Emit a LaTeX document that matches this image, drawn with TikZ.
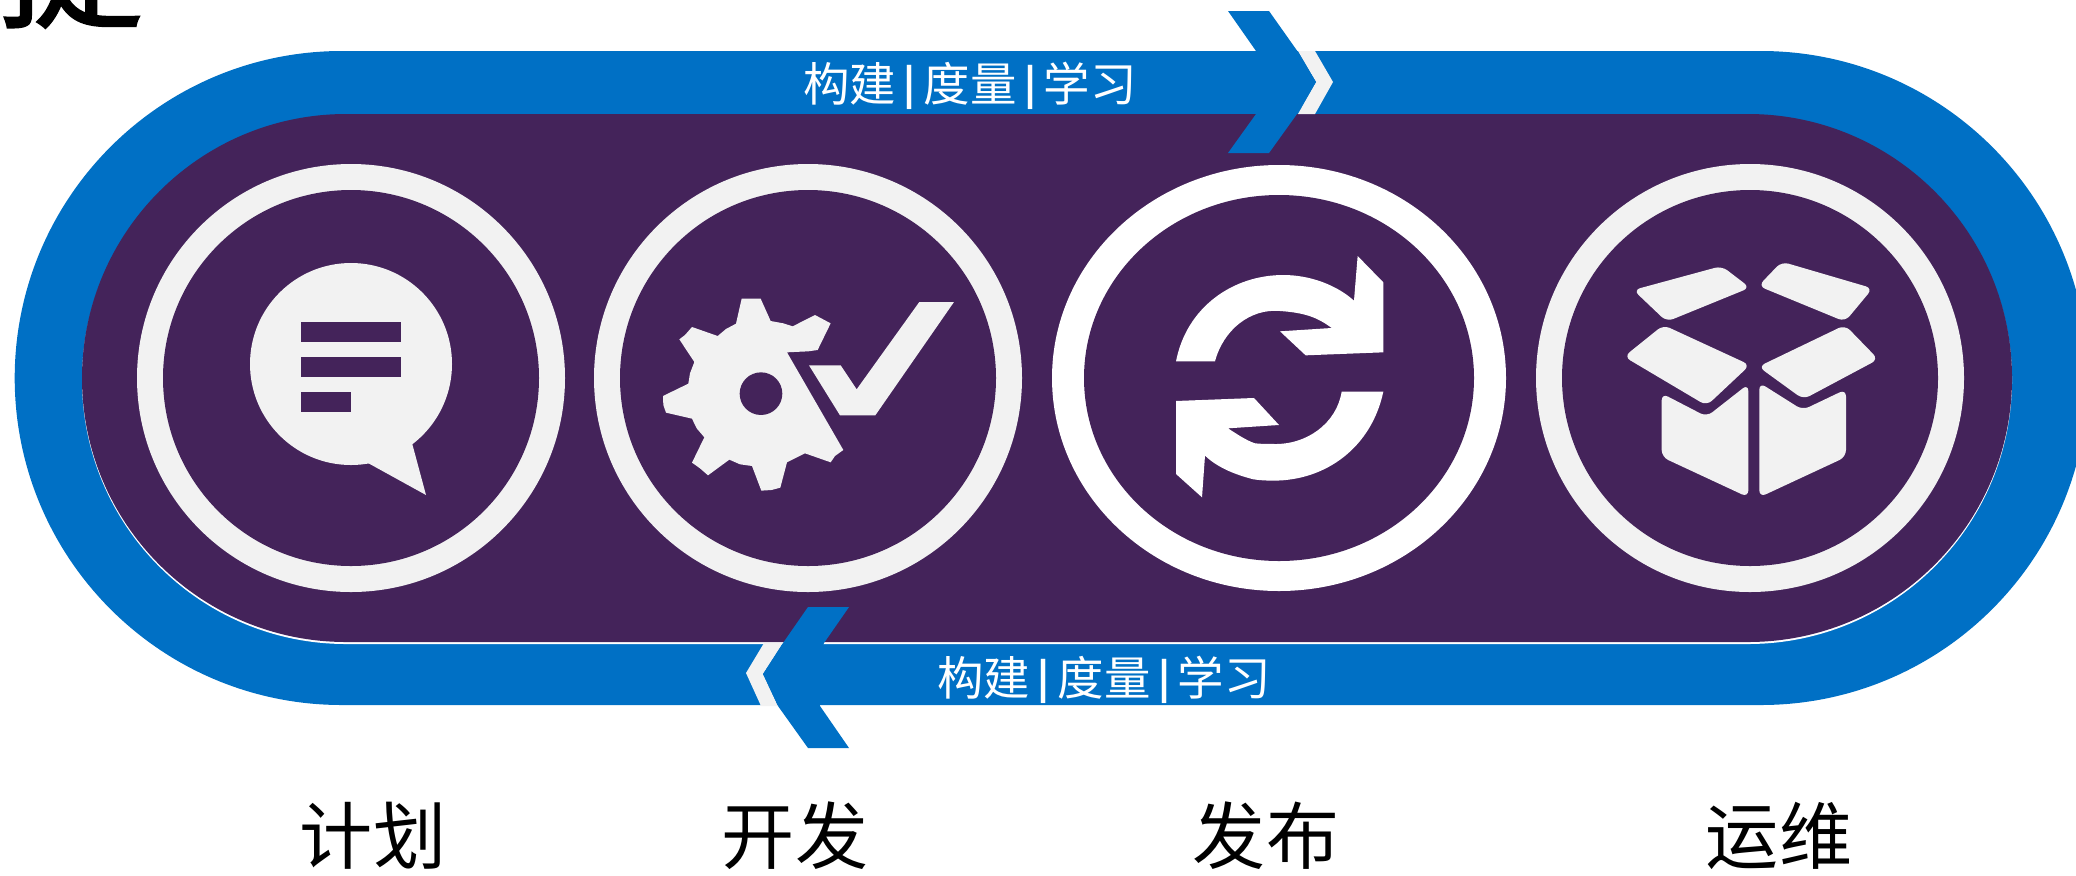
\documentclass[tikz,border=0pt]{standalone}
\usepackage{fontspec}
\newfontfamily\cjk{Noto Sans CJK SC}
\newfontfamily\cjkheavy[FakeBold=1.2]{Noto Sans CJK SC}
\definecolor{bandblue}{HTML}{0070C5}
\definecolor{darkpurple}{HTML}{44235A}
\definecolor{lightgray}{HTML}{F2F2F2}
\tikzset{
	phase/.style={font=\cjk\fontsize{20.8}{24}\selectfont, inner sep=0pt},
	band/.style={font=\cjk\fontsize{13.2}{16}\selectfont, text=white, inner sep=0pt},
	icon/.style={fill=lightgray},
}
\newcommand{\bandbar}{\,\raisebox{0.8pt}{\bfseries\fontsize{11}{16}\selectfont|}\,}
\begin{document}
\begin{tikzpicture}[x=0.01cm, y=-0.01cm]

	\clip (0,0) rectangle (2076,875);

	\node[font=\cjkheavy\fontsize{42}{50}\selectfont, inner sep=0pt] (title) at (70,-40) {捷};

	\fill[bandblue, rounded corners=3.27cm] (14.7,51) rectangle (2088,705);
	\fill[white, rounded corners=2.64cm] (82,116) rectangle (2012,644);
	\fill[darkpurple, rounded corners=2.64cm] (82,114) rectangle (2012,642);

	\fill[lightgray] (351,378) circle [radius=214];
	\fill[darkpurple] (351,378) circle [radius=188];
	\fill[lightgray] (808,378) circle [radius=214];
	\fill[darkpurple] (808,378) circle [radius=188];
	\fill[white] (1279,378) circle [x radius=227, y radius=213];
	\fill[darkpurple] (1279,378) circle [x radius=195, y radius=183];
	\fill[lightgray] (1750,378) circle [radius=214];
	\fill[darkpurple] (1750,378) circle [radius=188];

	% bubble
	\fill[icon] (351,364) circle [radius=101];
	\fill[icon] (368,463) -- (426,495) -- (412,443) -- (380,420) -- cycle;
	\fill[darkpurple] (301,322) rectangle (401,342);
	\fill[darkpurple] (301,357) rectangle (401,377);
	\fill[darkpurple] (301,392) rectangle (351,412);

	% gear and check
	\begin{scope}[shift={(640,250)}, scale=0.3333]
		\fill[icon] (305,146) -- (362,146) -- (392,213) -- (430,220) -- (458,229) -- (525,195) -- (572,220) -- (533,300) -- (505,304) -- (441,307) -- (610,600) -- (585,618) -- (572,637) -- (495,610) -- (441,637) -- (421,713) -- (395,720) -- (364,722) -- (336,648) -- (300,643) -- (268,629) -- (204,676) -- (180,655) -- (156,638) -- (193,562) -- (170,535) -- (156,506) -- (78,488) -- (70,465) -- (69,438) -- (145,401) -- (150,370) -- (163,336) -- (118,268) -- (135,255) -- (156,231) -- (233,258) -- (258,237) -- (288,221) -- cycle;
		\fill[darkpurple] (363,431) circle [radius=64];
		\fill[icon] (507,346) -- (602,346) -- (650,418) -- (838,156) -- (942,156) -- (706,496) -- (600,496) -- cycle;
	\end{scope}

	% arrows
	\begin{scope}[shift={(1140,230)}, scale=0.3333]
		\fill[white] (108,394) .. controls (140,230) and (280,135) .. (430,135) .. controls (510,135) and (590,165) .. (642,212) -- (653,78) -- (730,157) -- (730,367) -- (497,376) -- (420,304) -- (575,294) .. controls (530,260) and (490,248) .. (420,243) .. controls (330,235) and (250,300) .. (225,394) -- cycle;
		\fill[white] (730,485) .. controls (695,650) and (560,752) .. (400,752) .. controls (380,752) and (360,751) .. (340,748) .. controls (290,735) and (235,715) .. (195,677) -- (186,802) -- (108,732) -- (108,513) -- (342,504) -- (417,585) -- (264,595) .. controls (290,612) and (320,632) .. (345,640) .. controls (365,642) and (380,642) .. (400,642) .. controls (500,645) and (590,580) .. (605,485) -- cycle;
	\end{scope}

	% box
	\begin{scope}[shift={(1600,240)}, scale=0.3333, rounded corners=2pt]
		\fill[icon] (100,150) -- (365,78) -- (450,143) -- (200,245) -- cycle;
		\fill[icon] (545,65) -- (818,145) -- (735,245) -- (475,138) -- cycle;
		\fill[icon] (190,255) -- (450,375) -- (320,497) -- (72,350) -- cycle;
		\fill[icon] (735,255) -- (835,358) -- (610,478) -- (475,380) -- cycle;
		\fill[icon] (185,460) -- (320,530) -- (445,432) -- (445,772) -- (185,651) -- cycle;
		\fill[icon] (478,428) -- (608,510) -- (738,448) -- (738,651) -- (478,772) -- cycle;
	\end{scope}

	% chevrons
	\fill[lightgray] (1298,51) -- (1315,51) -- (1333,82) -- (1315,114) -- (1298,114) -- (1316,82) -- cycle;
	\fill[bandblue] (1228,11) -- (1269,11) -- (1298,52) -- (1316,82) -- (1297,114) -- (1269,153) -- (1228,153) -- (1256,114) -- (1270,82) -- (1256,51) -- cycle;
	\fill[lightgray] (764,643) -- (783,643) -- (763,674) -- (778,706) -- (761,706) -- (746,673) -- cycle;
	\fill[bandblue] (808,607) -- (849,607) -- (824,643) -- (810,674) -- (820,706) -- (849,748) -- (808,748) -- (778,706) -- (763,674) -- (783,643) -- cycle;

	\node[band] (toploop) at (970,86) {构建\bandbar 度量\bandbar 学习};
	\node[band] (bottomloop) at (1104,680) {构建\bandbar 度量\bandbar 学习};

	\node[phase] (plan) at (373,836) {计划};
	\node[phase] (dev) at (795,836) {开发};
	\node[phase] (release) at (1266,836) {发布};
	\node[phase] (ops) at (1779,836) {运维};

\end{tikzpicture}
\end{document}
